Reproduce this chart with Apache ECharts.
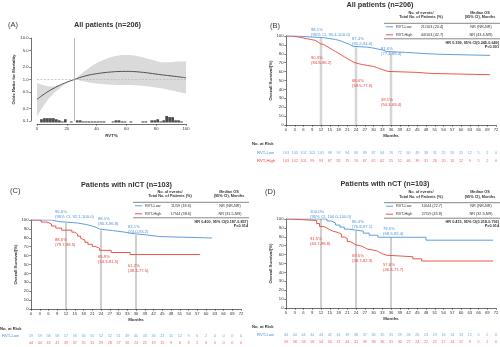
<!DOCTYPE html>
<html>
<head>
<meta charset="utf-8">
<script src="https://cdn.jsdelivr.net/npm/echarts@6/dist/echarts.min.js"></script>
<style>
  html, body { margin: 0; padding: 0; background: #fff; }
  #c { width: 500px; height: 347px; }
</style>
</head>
<body>
<div id="c"></div>
<script>
// ---------- Panel A: restricted cubic spline, RVT% vs odds ratio ----------
const rvtGrid  = [0, 5, 10, 15, 20, 25, 30, 35, 40, 45, 50, 55, 60, 65, 70, 75, 80, 85, 90, 95, 100];
const orFit    = [0.33, 0.45, 0.58, 0.72, 0.86, 1.0, 1.15, 1.28, 1.38, 1.46, 1.52, 1.56, 1.57, 1.55, 1.50, 1.43, 1.35, 1.28, 1.22, 1.16, 1.10];
const orUpper  = [0.82, 0.72, 0.68, 0.72, 0.85, 1.0, 1.40, 1.90, 2.50, 3.00, 3.50, 3.80, 3.90, 3.80, 3.50, 3.10, 2.80, 2.60, 2.60, 2.70, 2.70];
const orLower  = [0.13, 0.25, 0.42, 0.60, 0.82, 1.0, 0.92, 0.85, 0.80, 0.77, 0.75, 0.74, 0.74, 0.73, 0.71, 0.68, 0.64, 0.60, 0.55, 0.50, 0.46];
const rvtCutoff = 25;
const orTicks  = [0.1, 0.2, 0.5, 1, 2, 5, 10];
const histCenters = [1, 3, 5, 7, 9, 11, 13, 15, 17, 19, 21, 23, 25, 27, 29, 31, 33, 35, 37, 39, 41, 43, 45, 47, 49,
                     51, 53, 55, 57, 59, 61, 63, 65, 67, 69, 71, 73, 75, 77, 79, 81, 83, 85, 87, 89, 91, 93, 95, 97, 99];
const histCounts  = [0, 3, 4, 4, 4, 4, 3, 2, 1, 3, 0, 1, 0, 2, 2, 1, 1, 1, 1, 1, 1, 1, 1, 0, 0,
                     1, 2, 2, 1, 1, 0, 1, 0, 0, 0, 1, 1, 0, 2, 2, 3, 1, 2, 6, 5, 5, 2, 2, 1, 0];

// ---------- Kaplan-Meier curves (months, overall survival %) ----------
const monthTicks = [0, 3, 6, 9, 12, 15, 18, 21, 24, 27, 30, 33, 36, 39, 42, 45, 48, 51, 54, 57, 60, 63, 66, 69, 72];
const landmarkMonths = [12, 24, 36];

// All patients
const allLowT  = [0, 3.5, 8, 13, 15, 17, 19, 20.5, 22, 23, 28, 30, 31.5, 33, 34.5, 41, 46, 52, 70];
const allLowS  = [100, 99.0, 98.1, 97.1, 96.1, 94.2, 92.2, 90.3, 88.4, 87.4, 86.4, 85.4, 84.4, 82.6, 81.6, 80.6, 79.5, 78.2, 78.2];
const allHighT = [0, 2, 4, 5.5, 7, 8.5, 10, 11, 11.8, 13, 14, 15, 16, 17, 18, 19, 20, 21, 22, 23, 23.7, 26, 28, 30, 31, 32, 33, 34, 35, 45, 50, 70];
const allHighS = [100, 99.0, 98.1, 97.1, 96.1, 95.1, 93.2, 91.3, 90.3, 88.3, 86.4, 84.5, 82.5, 80.6, 78.6, 76.7, 74.7, 72.8, 70.9, 69.9, 68.0, 66.9, 65.8, 64.7, 63.5, 62.4, 61.3, 60.2, 59.1, 57.9, 56.5, 56.5];
const allLowMark  = [98.1, 87.4, 81.6];
const allLowCI    = ['95% CI, 95.4-100.0', '81.2-94.0', '77.4-89.4'];
const allHighMark = [90.3, 68.0, 59.1];
const allHighCI   = ['84.8-96.2', '59.5-77.6', '50.3-69.4'];
const allRiskLow  = [103, 103, 102, 102, 101, 98, 97, 94, 90, 89, 87, 84, 76, 72, 60, 49, 38, 31, 25, 20, 15, 12, 5, 2, 0];
const allRiskHigh = [103, 102, 101, 99, 93, 87, 82, 75, 70, 67, 65, 62, 55, 52, 46, 39, 31, 26, 20, 16, 12, 9, 5, 2, 0];
const allEvents  = ['21/103 (20.4)', '44/103 (42.7)'];
const allMedian  = ['NR (NR-NR)', 'NR (43.4-NR)'];
const allHR = 'HR 0.399, 95% CI(0.245-0.649)';
const allP  = 'P<0.001';

// Patients with nICT
const nictLowT  = [0, 7, 9.5, 16, 19, 21, 22.5, 23.5, 28, 32, 35, 40, 44, 62];
const nictLowS  = [100, 98.3, 96.6, 94.9, 93.2, 91.5, 89.8, 88.1, 86.4, 84.7, 83.1, 81.4, 79.8, 79.8];
const nictHighT = [0, 3.5, 5.5, 7, 8.5, 10.5, 14, 15, 16, 17, 17.5, 18.5, 19.5, 21, 22, 23.5, 27.5, 34, 58];
const nictHighS = [100, 97.7, 95.5, 93.2, 90.9, 88.6, 86.3, 84.1, 81.8, 79.5, 77.3, 75.0, 72.7, 70.4, 68.2, 65.9, 63.5, 61.2, 61.2];
const nictLowMark  = [96.6, 88.1, 83.1];
const nictLowCI    = ['95% CI, 92.1-100.0', '80.3-96.8', '74.0-93.2'];
const nictHighMark = [88.6, 65.9, 61.2];
const nictHighCI   = ['79.7-98.5', '53.3-81.5', '48.3-77.5'];
const nictRiskLow  = [59, 59, 58, 58, 57, 56, 56, 55, 52, 52, 51, 49, 45, 43, 34, 23, 15, 12, 9, 6, 2, 0, 0, 0, 0];
const nictRiskHigh = [44, 44, 43, 41, 39, 37, 35, 31, 29, 28, 27, 26, 24, 22, 19, 15, 9, 6, 3, 2, 0, 0, 0, 0, 0];
const nictEvents = ['11/59 (18.6)', '17/44 (38.6)'];
const nictMedian = ['NR (NR-NR)', 'NR (31.5-NR)'];
const nictHR = 'HR 0.400, 95% CI(0.187-0.857)';
const nictP  = 'P=0.014';

// Patients with nCT
const nctLowT  = [0, 14, 15.5, 17, 18.5, 20, 21.5, 26.5, 28.5, 31.5, 48, 71];
const nctLowS  = [100, 97.7, 95.5, 93.2, 90.9, 88.6, 86.4, 84.1, 81.8, 79.5, 76.2, 76.2];
const nctHighT = [0, 1.5, 10.5, 11.5, 13, 14, 15, 16, 18, 19, 20, 21, 22, 23, 23.8, 26, 27, 28, 31, 32, 33, 34.5, 43.5, 46.5, 71];
const nctHighS = [100, 98.3, 94.9, 91.5, 89.8, 88.1, 86.4, 84.7, 83.0, 79.7, 78.0, 74.6, 72.9, 71.2, 69.5, 67.8, 66.1, 64.4, 62.7, 61.0, 59.3, 57.6, 55.3, 52.8, 52.8];
const nctLowMark  = [100.0, 86.4, 79.5];
const nctLowCI    = ['95% CI, 100.0-100.0', '76.8-97.1', '68.5-92.4'];
const nctHighMark = [91.5, 69.5, 57.6];
const nctHighCI   = ['84.7-98.8', '58.7-82.3', '46.3-71.7'];
const nctRiskLow  = [44, 44, 44, 44, 44, 42, 41, 39, 38, 37, 36, 35, 31, 29, 26, 26, 23, 19, 16, 14, 13, 12, 5, 2, 0];
const nctRiskHigh = [59, 58, 58, 58, 54, 50, 47, 44, 41, 39, 38, 36, 31, 30, 27, 24, 22, 22, 17, 14, 12, 9, 5, 2, 0];
const nctEvents = ['10/44 (22.7)', '27/59 (45.8)'];
const nctMedian = ['NR (NR-NR)', 'NR (32.9-NR)'];
const nctHR = 'HR 0.415, 95% CI(0.218-0.792)';
const nctP  = 'P=0.014';

const groupNames = ['RVT-Low', 'RVT-High'];

// ---------- styling ----------
const FONT = '"Liberation Sans", Arial, sans-serif';
const BLUE = '#4f93d8';
const RED  = '#e8443a';
const INK  = '#333333';
const TICK = 4.2;   // axis tick labels
const RISK = 3.8;   // numbers at risk

const chart = echarts.init(document.getElementById('c'), null, { renderer: 'canvas' });

const axisLine = { show: true, onZero: false, lineStyle: { color: INK, width: 0.7 } };
const axisTick = { show: true, length: 1.8, lineStyle: { color: INK, width: 0.6 } };
const tickLabel = { fontSize: TICK, color: INK, margin: 2.5, fontFamily: FONT,
  showMinLabel: true, showMaxLabel: true, hideOverlap: false };
const axisName = { fontSize: 4.4, fontWeight: 'bold', color: INK, fontFamily: FONT };

const grids = [
  { left: 37,  top: 38,    width: 149, height: 83 },    // A spline
  { left: 37,  top: 38,    width: 149, height: 84.5 },  // A histogram
  { left: 286, top: 36,    width: 210, height: 89 },    // B curves
  { left: 286, top: 149,   width: 210, height: 16 },    // B risk table
  { left: 31,  top: 220,   width: 210, height: 89 },    // C curves
  { left: 31,  top: 332.5, width: 210, height: 14 },    // C risk table
  { left: 286, top: 219,   width: 210, height: 89 },    // D curves
  { left: 286, top: 331.5, width: 210, height: 14 }     // D risk table
].map(g => Object.assign({ containLabel: false, outerBoundsMode: 'none' }, g));

const logTicks = orTicks.map(v => Math.log10(v));

const xAxes = [
  { gridIndex: 0, type: 'value', min: 0, max: 100, interval: 20, offset: 3,
    axisLine, axisTick, axisLabel: tickLabel, splitLine: { show: false },
    name: 'RVT%', nameLocation: 'middle', nameGap: 10, nameTextStyle: axisName },
  { gridIndex: 1, type: 'value', min: 0, max: 100, show: false }
];
const yAxes = [
  { gridIndex: 0, type: 'value', min: -1.0005, max: 1.0005, offset: 6,
    axisLine, splitLine: { show: false },
    axisTick: Object.assign({}, axisTick, { customValues: logTicks }),
    axisLabel: Object.assign({}, tickLabel, { customValues: logTicks,
      formatter: v => Math.pow(10, v).toFixed(1) }),
    name: 'Odds Ratio for Mortality', nameLocation: 'middle', nameGap: 15, nameTextStyle: axisName },
  { gridIndex: 1, type: 'value', min: 0, max: 78, show: false }
];

function addKmAxes(gi) {
  xAxes.push({ gridIndex: gi, type: 'value', min: 0, max: 72, interval: 3,
    axisLine, axisTick, axisLabel: tickLabel, splitLine: { show: false },
    name: 'Months', nameLocation: 'middle', nameGap: 9, nameTextStyle: axisName });
  yAxes.push({ gridIndex: gi, type: 'value', min: 0, max: 100, interval: 10,
    axisLine, axisTick, axisLabel: tickLabel, splitLine: { show: false },
    name: 'Overall Survival(%)', nameLocation: 'middle', nameGap: 10, nameTextStyle: axisName });
  xAxes.push({ gridIndex: gi + 1, type: 'value', min: 0, max: 72, show: false });
  yAxes.push({ gridIndex: gi + 1, type: 'category', data: groupNames, inverse: true,
    axisLine: { show: false }, axisTick: { show: false }, splitLine: { show: false },
    axisLabel: { fontSize: TICK, fontFamily: FONT, align: 'left', margin: 29,
      color: v => (v === groupNames[0] ? BLUE : RED) } });
}
addKmAxes(2); addKmAxes(4); addKmAxes(6);

const series = [
  // confidence band: grey fill under the upper limit, masked in white under the lower limit
  { type: 'line', xAxisIndex: 0, yAxisIndex: 0, smooth: true, symbol: 'none', silent: true, z: 1,
    lineStyle: { opacity: 0 }, areaStyle: { color: '#dadada', opacity: 1, origin: 'start' },
    data: rvtGrid.map((x, i) => [x, Math.log10(orUpper[i])]) },
  { type: 'line', xAxisIndex: 0, yAxisIndex: 0, smooth: true, symbol: 'none', silent: true, z: 1,
    lineStyle: { opacity: 0 }, areaStyle: { color: '#ffffff', opacity: 1, origin: 'start' },
    data: rvtGrid.map((x, i) => [x, Math.log10(orLower[i])]) },
  { type: 'line', xAxisIndex: 0, yAxisIndex: 0, smooth: true, symbol: 'none', silent: true, z: 3,
    lineStyle: { color: '#4d4d4d', width: 1 },
    data: rvtGrid.map((x, i) => [x, Math.log10(orFit[i])]),
    markLine: { silent: true, symbol: 'none', label: { show: false },
      data: [
        { xAxis: rvtCutoff, lineStyle: { color: '#9a9a9a', width: 0.7, type: 'solid' } },
        { yAxis: Math.log10(1), lineStyle: { color: '#b4b4b4', width: 0.7, type: [2, 1.5] } }
      ] } },
  { type: 'bar', xAxisIndex: 1, yAxisIndex: 1, barWidth: 2.7, silent: true, z: 4,
    itemStyle: { color: '#4a4a4a' },
    data: histCenters.map((c, i) => [c, histCounts[i]]) }
];

function addKmSeries(gi, low, high, lowMark, highMark, riskLow, riskHigh, guide) {
  landmarkMonths.forEach((m, i) => {
    series.push({ type: 'line', xAxisIndex: gi, yAxisIndex: gi, symbol: 'none', silent: true, z: 1,
      lineStyle: { color: guide.color, width: guide.width },
      data: [[m, Math.max(lowMark[i], highMark[i])], [m, 0]] });
  });
  [[low, BLUE], [high, RED]].forEach(([curve, color]) => {
    series.push({ type: 'line', xAxisIndex: gi, yAxisIndex: gi, step: 'end', symbol: 'none',
      silent: true, z: 3, lineStyle: { color, width: 0.9 },
      data: curve[0].map((t, i) => [t, curve[1][i]]) });
  });
  [[riskLow, 0, BLUE], [riskHigh, 1, RED]].forEach(([counts, row, color]) => {
    series.push({ type: 'scatter', xAxisIndex: gi + 1, yAxisIndex: gi + 1, symbolSize: 1, silent: true,
      itemStyle: { color: 'rgba(0,0,0,0)' },
      label: { show: true, position: 'inside', formatter: p => p.value[2],
        color, fontSize: RISK, fontFamily: FONT },
      data: monthTicks.map((m, i) => [m, row, counts[i]]) });
  });
}
addKmSeries(2, [allLowT, allLowS], [allHighT, allHighS], allLowMark, allHighMark, allRiskLow, allRiskHigh,
  { color: '#d6d6d6', width: 2.6 });
addKmSeries(4, [nictLowT, nictLowS], [nictHighT, nictHighS], nictLowMark, nictHighMark, nictRiskLow, nictRiskHigh,
  { color: '#b0b0b0', width: 1.2 });
addKmSeries(6, [nctLowT, nctLowS], [nctHighT, nctHighS], nctLowMark, nctHighMark, nctRiskLow, nctRiskHigh,
  { color: '#b0b0b0', width: 1.2 });

chart.setOption({
  animation: false,
  textStyle: { fontFamily: FONT },
  grid: grids, xAxis: xAxes, yAxis: yAxes, series
});

// ---------- text overlays ----------
const g = [];
function txt(x, y, text, opt) {
  opt = opt || {};
  g.push({ type: 'text', x, y, silent: true, z: 10,
    style: { text, fill: opt.color || INK, textAlign: opt.align || 'left', textVerticalAlign: 'middle',
      font: `${opt.bold ? 'bold ' : ''}${opt.size || TICK}px ${FONT}` } });
}
function hline(x1, x2, y, color, width) {
  g.push({ type: 'line', silent: true, z: 10, shape: { x1, y1: y, x2, y2: y },
    style: { stroke: color, lineWidth: width } });
}

// panel titles and letters
txt(107.5, 25, 'All patients (n=206)', { size: 7.3, bold: true, align: 'center' });
txt(380, 5, 'All patients (n=206)', { size: 7.3, bold: true, align: 'center' });
txt(126.5, 185, 'Patients with nICT (n=103)', { size: 7.3, bold: true, align: 'center' });
txt(385, 184, 'Patients with nCT (n=103)', { size: 7.3, bold: true, align: 'center' });
txt(8, 25, '(A)', { size: 7.5 });
txt(270, 26, '(B)', { size: 7.5 });
txt(10, 191, '(C)', { size: 7.5 });
txt(265, 192, '(D)', { size: 7.5 });

// "No. at Risk" captions
txt(252, 144, 'No. at Risk', { bold: true });
txt(0, 329, 'No. at Risk', { bold: true });
txt(252, 327, 'No. at Risk', { bold: true });

// summary tables
function summaryTable(xL, yR, events, medians, hr, p) {
  const fs = 3.8;
  txt(xL + 37, yR - 10.5, 'No. of events/', { size: fs, bold: true, align: 'center' });
  txt(xL + 37, yR - 6, 'Total No. of Patients (%)', { size: fs, bold: true, align: 'center' });
  txt(xL + 96, yR - 10.5, 'Median OS', { size: fs, bold: true, align: 'center' });
  txt(xL + 96, yR - 6, '(95% CI), Months', { size: fs, bold: true, align: 'center' });
  hline(xL, xL + 116, yR, INK, 0.6);
  [BLUE, RED].forEach((color, r) => {
    const y = yR + 3.5 + 8 * r;
    hline(xL + 2, xL + 9, y, color, 0.9);
    txt(xL + 12, y, groupNames[r], { size: fs });
    txt(xL + 48, y, events[r], { size: fs, align: 'center' });
    txt(xL + 97, y, medians[r], { size: fs, align: 'center' });
  });
  hline(xL, xL + 116, yR + 15.5, INK, 0.6);
  txt(xL + 115, yR + 19.5, hr, { size: fs, bold: true, align: 'right' });
  txt(xL + 115, yR + 23.3, p, { size: fs, bold: true, align: 'right' });
}
summaryTable(384, 23.3, allEvents, allMedian, allHR, allP);
summaryTable(133, 202.3, nictEvents, nictMedian, nictHR, nictP);
summaryTable(384, 202.7, nctEvents, nctMedian, nctHR, nctP);

// landmark survival annotations: [dx, dy] from the curve point to the first text line
const annLayout = {
  2: { low: [[-10, -7.7], [-4, -8.2], [-10, -3.4]], high: [[-10, 13.4], [-4, 16.5], [-10, 27.6]] },
  4: { low: [[-11, -11], [-3, -11.6], [-8, -8]],    high: [[-11, 10], [-3, 6.7], [-8, 11.5]] },
  6: { low: [[-11, -7], [-4, -9], [-8, -8]],        high: [[-11, 12.4], [-4, 10], [-8, 8.3]] }
};
function annotate(gi, lowMark, lowCI, highMark, highCI) {
  [[lowMark, lowCI, BLUE, 'low'], [highMark, highCI, RED, 'high']].forEach(([marks, cis, color, key]) => {
    landmarkMonths.forEach((m, i) => {
      const [px, py] = chart.convertToPixel({ gridIndex: gi }, [m, marks[i]]);
      const [dx, dy] = annLayout[gi][key][i];
      txt(px + dx, py + dy, marks[i].toFixed(1) + '%', { color, size: 4.2 });
      txt(px + dx, py + dy + 4.4, '(' + cis[i] + ')', { color, size: 4.2 });
    });
  });
}
annotate(2, allLowMark, allLowCI, allHighMark, allHighCI);
annotate(4, nictLowMark, nictLowCI, nictHighMark, nictHighCI);
annotate(6, nctLowMark, nctLowCI, nctHighMark, nctHighCI);

chart.setOption({ graphic: g });
</script>
</body>
</html>
